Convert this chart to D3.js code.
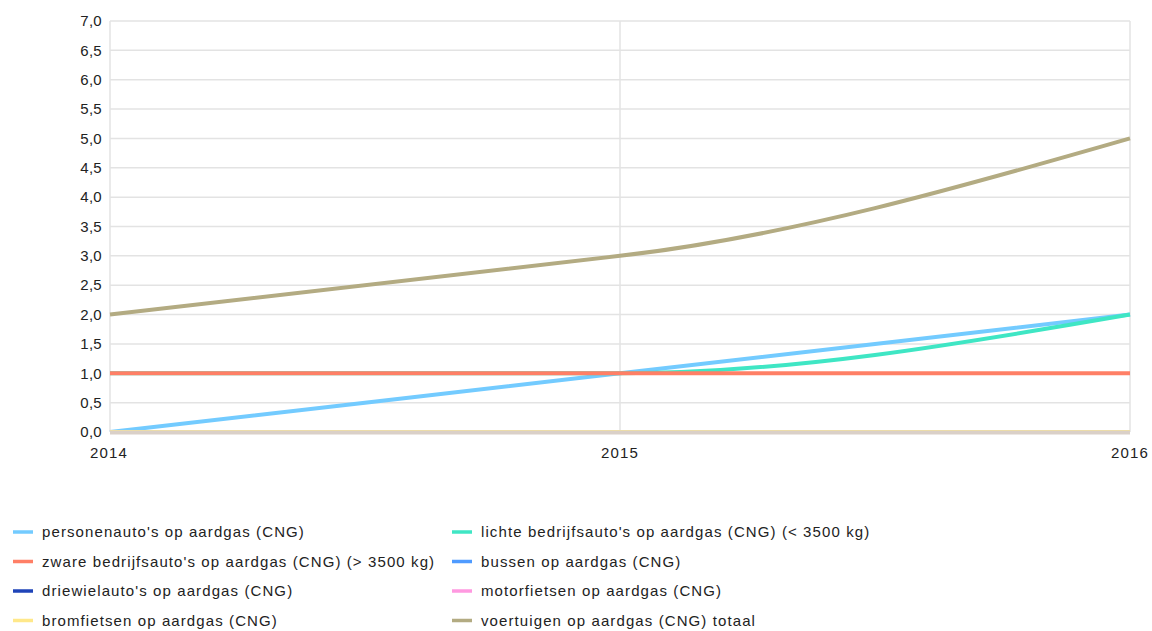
<!DOCTYPE html>
<html lang="nl">
<head>
<meta charset="UTF-8">
<title>Voertuigen op aardgas (CNG)</title>
<script src="https://d3js.org/d3.v7.min.js"></script>
<style>
  body { margin: 0; background: #fff; }
  text { font-family: "Liberation Sans", Arial, sans-serif; font-size: 15px; letter-spacing: 1.1px; fill: #222; }
  .ylab { letter-spacing: 0.3px; }
</style>
</head>
<body>
<svg width="1152" height="631"></svg>
<script>
    const years = ['2014', '2015', '2016']
    const yTicks = [0, 0.5, 1, 1.5, 2, 2.5, 3, 3.5, 4, 4.5, 5, 5.5, 6, 6.5, 7]

    // series in legend (row) order
    const seriesNames = [
        "personenauto's op aardgas (CNG)",
        "lichte bedrijfsauto's op aardgas (CNG) (< 3500 kg)",
        "zware bedrijfsauto's op aardgas (CNG) (> 3500 kg)",
        "bussen op aardgas (CNG)",
        "driewielauto's op aardgas (CNG)",
        "motorfietsen op aardgas (CNG)",
        "bromfietsen op aardgas (CNG)",
        "voertuigen op aardgas (CNG) totaal"
    ]
    const personen = [0, 1, 2]
    const lichte = [1, 1, 2]
    const zware = [1, 1, 1]
    const bussen = [0, 0, 0]
    const driewiel = [0, 0, 0]
    const motorfietsen = [0, 0, 0]
    const bromfietsen = [0, 0, 0]
    const totaal = [2, 3, 5]
    const seriesColors = ['#73cbff', '#3fe6c4', '#ff7f66', '#4f9bff', '#1f44b8', '#ff99e0', '#ffe88a', '#b3ab82']

    const seriesValues = [personen, lichte, zware, bussen, driewiel, motorfietsen, bromfietsen, totaal]

    const svg = d3.select('svg')
    const margin = {left: 110, right: 22, top: 21, bottom: 199}
    const width = 1152 - margin.left - margin.right
    const height = 631 - margin.top - margin.bottom

    const x = d3.scalePoint().domain(years).range([0, width])
    const y = d3.scaleLinear().domain([0, 7]).range([height, 0])

    const g = svg.append('g')
        .attr('transform', 'translate(' + margin.left + ',' + margin.top + ')')

    // horizontal grid
    g.append('g')
        .selectAll('line')
        .data(yTicks)
        .enter()
        .append('line')
        .attr('x1', 0)
        .attr('x2', width)
        .attr('y1', d => y(d))
        .attr('y2', d => y(d))
        .attr('stroke', '#e3e3e3')
        .attr('stroke-width', 1.5)

    // vertical grid
    g.append('g')
        .selectAll('line')
        .data(years)
        .enter()
        .append('line')
        .attr('x1', d => x(d))
        .attr('x2', d => x(d))
        .attr('y1', 0)
        .attr('y2', height)
        .attr('stroke', '#e3e3e3')
        .attr('stroke-width', 1.5)

    // y labels
    g.append('g')
        .selectAll('text')
        .data(yTicks)
        .enter()
        .append('text')
        .attr('class', 'ylab')
        .attr('x', -8)
        .attr('y', d => y(d))
        .attr('dy', '0.35em')
        .attr('text-anchor', 'end')
        .text(d => d3.format('.1f')(d).replace('.', ','))

    // x labels
    g.append('g')
        .selectAll('text')
        .data(years)
        .enter()
        .append('text')
        .attr('x', (d, i) => x(d) + (i === 0 ? -1 : 0))
        .attr('y', height + 26)
        .attr('text-anchor', 'middle')
        .text(d => d)

    // smooth monotone line: interior tangent = smaller neighbouring slope
    function smoothPath(vals) {
        const n = vals.length
        const s = []
        for (let i = 0; i < n - 1; i++) s.push(vals[i + 1] - vals[i])
        const t = new Array(n)
        for (let i = 1; i < n - 1; i++) {
            t[i] = (Math.sign(s[i - 1]) === Math.sign(s[i]) && s[i] !== 0)
                ? Math.sign(s[i]) * Math.min(Math.abs(s[i - 1]), Math.abs(s[i])) : 0
        }
        t[0] = (3 * s[0] - t[1]) / 2
        t[n - 1] = (3 * s[n - 2] - t[n - 2]) / 2
        const p = d3.path()
        p.moveTo(x(years[0]), y(vals[0]))
        for (let i = 0; i < n - 1; i++) {
            const x0 = x(years[i]), x1 = x(years[i + 1])
            const dx = (x1 - x0) / 3
            p.bezierCurveTo(x0 + dx, y(vals[i] + t[i] / 3), x1 - dx, y(vals[i + 1] - t[i + 1] / 3), x1, y(vals[i + 1]))
        }
        return p.toString()
    }

    g.append('g')
        .selectAll('path')
        .data(seriesValues)
        .enter()
        .append('path')
        .attr('d', d => smoothPath(d))
        .attr('fill', 'none')
        .attr('stroke', (d, i) => seriesColors[i])
        .attr('stroke-width', 4)

    // bottom axis line
    g.append('line')
        .attr('x1', 0)
        .attr('x2', width)
        .attr('y1', height + 0.5)
        .attr('y2', height + 0.5)
        .attr('stroke', '#dad0c8')
        .attr('stroke-width', 4)

    // legend: two columns, filled row-wise
    const legend = svg.append('g')
    const items = legend.selectAll('g')
        .data(seriesNames)
        .enter()
        .append('g')
        .attr('transform', (d, i) => 'translate(' + (i % 2 === 0 ? 13 : 452) + ',' + (532 + Math.floor(i / 2) * 29.5) + ')')

    items.append('line')
        .attr('x1', 0)
        .attr('x2', 20)
        .attr('stroke', (d, i) => seriesColors[i])
        .attr('stroke-width', 3.5)

    items.append('text')
        .attr('x', 29)
        .attr('dy', '0.35em')
        .text(d => d)
</script>
</body>
</html>
